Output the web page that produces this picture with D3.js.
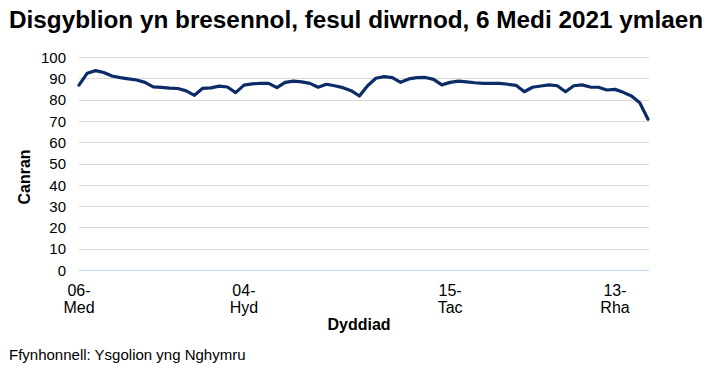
<!DOCTYPE html>
<html><head><meta charset="utf-8">
<script src="https://cdn.jsdelivr.net/npm/d3@7"></script>
<style>body{margin:0;background:#fff}svg{display:block;font-family:"Liberation Sans",Arial,sans-serif}</style>
</head><body>
<svg id="c" width="713" height="376"></svg>
<script>
const title = "Disgyblion yn bresennol, fesul diwrnod, 6 Medi 2021 ymlaen";
const yTitle = "Canran";
const xTitle = "Dyddiad";
const source = "Ffynhonnell: Ysgolion yng Nghymru";
// school days (index 0 = 06 Sep 2021), attendance %
const values = [
  86.8, 92.4, 93.6, 92.7, 91.1, 90.3, 89.7, 89.2, 88.1, 86.0,
  85.7, 85.4, 85.2, 84.1, 82.0, 85.3, 85.5, 86.3, 85.9, 83.3,
  86.8, 87.4, 87.6, 87.6, 85.6, 88.1, 88.7, 88.3, 87.6, 85.8,
  87.2, 86.5, 85.6, 84.2, 81.7, 86.5, 90.0, 90.8, 90.3, 88.1,
  89.7, 90.3, 90.4, 89.5, 86.9, 88.1, 88.7, 88.3, 87.9, 87.6,
  87.6, 87.6, 87.2, 86.7, 83.7, 85.8, 86.4, 86.9, 86.5, 83.7,
  86.5, 86.9, 85.9, 85.8, 84.5, 84.8, 83.4, 81.7, 78.5, 70.8
];
const tickIndex = [0, 20, 45, 65];
const tickLabels = [["06-","Med"],["04-","Hyd"],["15-","Tac"],["13-","Rha"]];
const yTicks = [0,10,20,30,40,50,60,70,80,90,100];

const svg = d3.select("#c");
const x = d3.scalePoint().domain(d3.range(values.length)).range([79, 648]);
const y = d3.scaleLinear().domain([0, 100]).range([270, 57]);

svg.append("text").attr("x", 9).attr("y", 28).attr("font-size", 23).attr("font-weight", "bold")
  .attr("textLength", 694).attr("lengthAdjust", "spacingAndGlyphs")
  .attr("fill", "#000").text(title);

// gridlines
svg.append("g").selectAll("line").data(yTicks.filter(d => d > 0)).join("line")
  .attr("x1", 79).attr("x2", 649).attr("y1", d => Math.round(y(d)) + 0.5).attr("y2", d => Math.round(y(d)) + 0.5)
  .attr("stroke", "#d9d9d9").attr("stroke-width", 1);
svg.append("line").attr("x1", 79).attr("x2", 649).attr("y1", Math.round(y(0)) + 0.5).attr("y2", Math.round(y(0)) + 0.5)
  .attr("stroke", "#bdd7ee").attr("stroke-width", 1);

// y axis labels
const yAxis = d3.axisLeft(y).tickValues(yTicks).tickSize(0).tickPadding(0);
const gy = svg.append("g").attr("transform", "translate(66,0)").call(yAxis);
gy.select(".domain").remove();
gy.selectAll("text").attr("font-size", 15).attr("fill", "#000").attr("font-family", "Liberation Sans, Arial, sans-serif").attr("dy", "0.35em");

// x axis labels
const gx = svg.append("g");
tickIndex.forEach((idx, k) => {
  const t = gx.append("text").attr("x", x(idx)).attr("y", 296).attr("text-anchor", "middle")
    .attr("font-size", 16).attr("fill", "#000");
  t.append("tspan").attr("x", x(idx)).attr("dy", 0).text(tickLabels[k][0]);
  t.append("tspan").attr("x", x(idx)).attr("dy", 17).text(tickLabels[k][1]);
});

// line
svg.append("path").datum(values)
  .attr("d", d3.line().x((d, i) => x(i)).y(d => y(d)))
  .attr("fill", "none").attr("stroke", "#0b2c66").attr("stroke-width", 3.2)
  .attr("stroke-linejoin", "round").attr("stroke-linecap", "round");

svg.append("text").attr("transform", "translate(30,177) rotate(-90)").attr("text-anchor", "middle")
  .attr("font-size", 16).attr("font-weight", "bold").text(yTitle);
svg.append("text").attr("x", 359).attr("y", 330).attr("text-anchor", "middle")
  .attr("font-size", 16).attr("font-weight", "bold").text(xTitle);
svg.append("text").attr("x", 9).attr("y", 360).attr("font-size", 15).attr("fill", "#000").text(source);
</script>
</body></html>
